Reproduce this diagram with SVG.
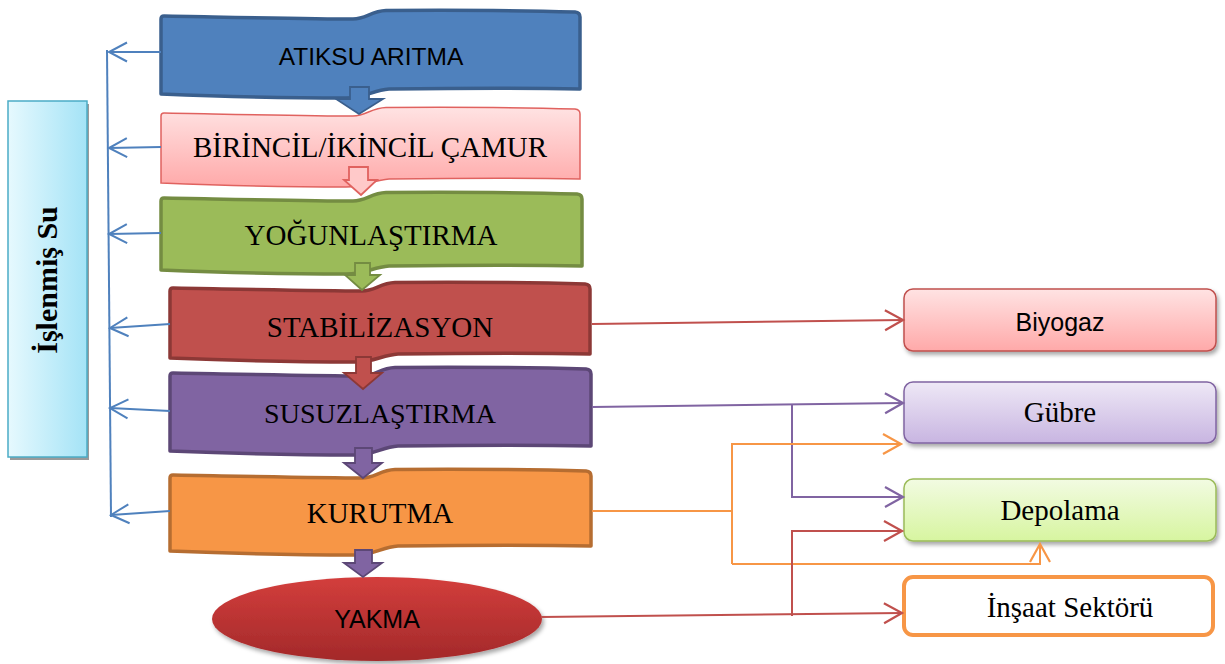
<svg xmlns="http://www.w3.org/2000/svg" width="1225" height="664" viewBox="0 0 1225 664">
  <style>
    .sans { font-family: "Liberation Sans", Arial, sans-serif; fill: #000; }
    .serif { font-family: "Liberation Serif", "Times New Roman", serif; fill: #000; }
    .banner { stroke-width: 3.5; stroke-linejoin: round; }
    .blk { stroke-width: 1.8; stroke-linejoin: miter; }
    .ln { fill: none; stroke-width: 2; }
    .blue { stroke: #4f81bd; }
    .red { stroke: #c0504d; }
    .purple { stroke: #8064a2; }
    .orange { stroke: #f79646; }
  </style>
  <defs>
    <linearGradient id="gPink" x1="0" y1="0" x2="0" y2="1">
      <stop offset="0" stop-color="#ffe3e3"/>
      <stop offset="1" stop-color="#ffa9a9"/>
    </linearGradient>
    <linearGradient id="gViolet" x1="0" y1="0" x2="0" y2="1">
      <stop offset="0" stop-color="#eee8f6"/>
      <stop offset="1" stop-color="#c8b5e1"/>
    </linearGradient>
    <linearGradient id="gLime" x1="0" y1="0" x2="0" y2="1">
      <stop offset="0" stop-color="#f2fbe2"/>
      <stop offset="1" stop-color="#d7f5a0"/>
    </linearGradient>
    <linearGradient id="gCyan" x1="0" y1="0" x2="1" y2="0">
      <stop offset="0" stop-color="#e6f9fe"/>
      <stop offset="1" stop-color="#a4e3f6"/>
    </linearGradient>
    <linearGradient id="gFire" x1="0" y1="0" x2="0" y2="1">
      <stop offset="0" stop-color="#d33e3c"/>
      <stop offset="1" stop-color="#a3292a"/>
    </linearGradient>
    <filter id="shadow" x="-10%" y="-20%" width="120%" height="150%">
      <feDropShadow dx="2" dy="3" stdDeviation="2" flood-color="#000" flood-opacity="0.35"/>
    </filter>
    <marker id="mBlue" markerWidth="22" markerHeight="24" refX="18" refY="11" orient="auto" markerUnits="userSpaceOnUse" overflow="visible">
      <path d="M0,1.5 L18,11 L0,20.5" fill="none" stroke="#4f81bd" stroke-width="2"/>
    </marker>
    <marker id="mRed" markerWidth="22" markerHeight="24" refX="18" refY="11" orient="auto" markerUnits="userSpaceOnUse" overflow="visible">
      <path d="M0,1 L18,11 L0,21" fill="none" stroke="#c0504d" stroke-width="2.2"/>
    </marker>
    <marker id="mPurple" markerWidth="22" markerHeight="24" refX="18" refY="11" orient="auto" markerUnits="userSpaceOnUse" overflow="visible">
      <path d="M0,1 L18,11 L0,21" fill="none" stroke="#8064a2" stroke-width="2.2"/>
    </marker>
    <marker id="mOrange" markerWidth="22" markerHeight="24" refX="18" refY="11" orient="auto" markerUnits="userSpaceOnUse" overflow="visible">
      <path d="M0,1 L18,11 L0,21" fill="none" stroke="#f79646" stroke-width="2.2"/>
    </marker>
  </defs>

  <!-- process stages (wave banners) -->
  <g id="atiksu-aritma" transform="translate(161,10)">
    <path class="banner" fill="#4f81bd" stroke="#3a5f8d" d="M0,9 Q0,6 3,6 C60,7 150,9 192,9 C205,9 210,1 225,0.5 C300,0 380,1 414,2 Q419,2.5 419,7 L419,79 C380,78 300,78 228,79 C212,80 205,88 185,88 C120,88 50,86 0,84 Z"/>
    <text class="sans" x="210" y="55" font-size="24.5" text-anchor="middle">ATIKSU ARITMA</text>
  </g>

  <g id="birincil-ikincil-camur" transform="translate(161,107)">
    <path fill="url(#gPink)" stroke="#e0625f" stroke-width="1.5" d="M0,9 Q0,6 3,6 C60,7 150,9 192,9 C205,9 210,1 225,0.5 C300,0 380,1 414,2 Q419,2.5 419,7 L419,72 C380,71 300,71 228,72 C212,73 205,80 185,80 C120,80 50,78 0,76 Z"/>
    <text class="serif" x="209" y="50" font-size="29" text-anchor="middle">BİRİNCİL/İKİNCİL ÇAMUR</text>
  </g>

  <g id="yogunlastirma" transform="translate(161,192)">
    <path class="banner" fill="#9bbb59" stroke="#748c42" d="M0,9 Q0,6 3,6 C60,7 150,9 192,9 C205,9 210,1 225,0.5 C300,0 380,1 416,2 Q421,2.5 421,7 L421,74 C380,73 300,73 228,74 C212,75 205,82 185,82 C120,82 50,80 0,78 Z"/>
    <text class="serif" x="210" y="53" font-size="29" text-anchor="middle">YOĞUNLAŞTIRMA</text>
  </g>

  <g id="stabilizasyon" transform="translate(170,282)">
    <path class="banner" fill="#c0504d" stroke="#8c3836" d="M0,9 Q0,6 3,6 C60,7 150,9 192,9 C205,9 210,1 225,0.5 C300,0 380,1 415,2 Q420,2.5 420,7 L420,72 C380,71 300,71 228,72 C212,73 205,80 185,80 C120,80 50,78 0,76 Z"/>
    <text class="serif" x="210" y="55" font-size="29" text-anchor="middle">STABİLİZASYON</text>
  </g>

  <g id="susuzlastirma" transform="translate(170,367)">
    <path class="banner" fill="#8064a2" stroke="#5c4776" d="M0,9 Q0,6 3,6 C60,7 150,9 192,9 C205,9 210,1 225,0.5 C300,0 380,1 416,2 Q421,2.5 421,7 L421,79 C380,78 300,78 228,79 C212,80 205,88 185,88 C120,88 50,86 0,84 Z"/>
    <text class="serif" x="210" y="56" font-size="28" text-anchor="middle">SUSUZLAŞTIRMA</text>
  </g>

  <g id="kurutma" transform="translate(170,469)">
    <path class="banner" fill="#f79646" stroke="#b66d31" d="M0,9 Q0,6 3,6 C60,7 150,9 192,9 C205,9 210,1 225,0.5 C300,0 380,1 416,2 Q421,2.5 421,7 L421,77 C380,76 300,76 228,77 C212,78 205,86 185,86 C120,86 50,84 0,82 Z"/>
    <text class="serif" x="210" y="54" font-size="29" text-anchor="middle">KURUTMA</text>
  </g>

  <g id="yakma">
    <ellipse cx="377" cy="619" rx="165" ry="42" fill="url(#gFire)" filter="url(#shadow)"/>
    <text class="sans" x="377" y="628" font-size="25" text-anchor="middle">YAKMA</text>
  </g>

  <!-- side collector -->
  <g id="islenmis-su">
    <rect x="10" y="104" width="79" height="356" fill="#9a9a9a"/>
    <rect x="8" y="101" width="79" height="356" fill="url(#gCyan)" stroke="#4bacc6" stroke-width="1.5"/>
    <text class="serif" transform="translate(57,280) rotate(-90)" font-size="30" font-weight="bold" text-anchor="middle">İşlenmiş Su</text>
  </g>

  <!-- end uses -->
  <g id="biyogaz">
    <rect x="904" y="289" width="312" height="62" rx="9" fill="url(#gPink)" stroke="#c0504d" stroke-width="1.5" filter="url(#shadow)"/>
    <text class="sans" x="1060" y="331" font-size="25" text-anchor="middle">Biyogaz</text>
  </g>
  <g id="gubre">
    <rect x="904" y="382" width="312" height="61" rx="9" fill="url(#gViolet)" stroke="#8064a2" stroke-width="1.5" filter="url(#shadow)"/>
    <text class="serif" x="1060" y="422" font-size="29" text-anchor="middle">Gübre</text>
  </g>
  <g id="depolama">
    <rect x="904" y="479" width="312" height="62" rx="9" fill="url(#gLime)" stroke="#9bbb59" stroke-width="1.5" filter="url(#shadow)"/>
    <text class="serif" x="1060" y="520" font-size="29" text-anchor="middle">Depolama</text>
  </g>
  <g id="insaat-sektoru">
    <rect x="904" y="577" width="309" height="58" rx="9" fill="#fff" stroke="#f79646" stroke-width="4"/>
    <text class="serif" x="1070" y="617" font-size="29" text-anchor="middle">İnşaat Sektörü</text>
  </g>

  <g id="connectors">
    <!-- flow arrows between stages -->
    <path class="blk" fill="#4f81bd" stroke="#3a5f8d" d="M350,87 H369 V99 H383 L359,114 L336,99 H350 Z"/>
    <path class="blk" fill="#ffc9c9" stroke="#e0625f" d="M349,167 H368 V180 H377 L361,195 L344,180 H349 Z"/>
    <path class="blk" fill="#9bbb59" stroke="#748c42" d="M355,263 H370 V275 H380 L362,290 L345,275 H355 Z"/>
    <path class="blk" fill="#c0504d" stroke="#8c3836" d="M356,357 H371 V373 H382 L363,389 L344,373 H356 Z"/>
    <path class="blk" fill="#8064a2" stroke="#5c4776" d="M355,448 H372 V463 H382 L363,478 L344,463 H355 Z"/>
    <path class="blk" fill="#8064a2" stroke="#5c4776" d="M355,550 H372 V563 H382 L363,577 L344,563 H355 Z"/>

    <!-- treated water returns -->
    <line class="ln blue" x1="107" y1="50" x2="111" y2="517"/>
    <line class="ln blue" x1="161" y1="52" x2="109" y2="52" marker-end="url(#mBlue)"/>
    <line class="ln blue" x1="161" y1="147" x2="109" y2="148" marker-end="url(#mBlue)"/>
    <line class="ln blue" x1="161" y1="233" x2="109" y2="234" marker-end="url(#mBlue)"/>
    <line class="ln blue" x1="170" y1="324" x2="110" y2="328" marker-end="url(#mBlue)"/>
    <line class="ln blue" x1="170" y1="411" x2="110" y2="408" marker-end="url(#mBlue)"/>
    <line class="ln blue" x1="170" y1="511" x2="111" y2="515" marker-end="url(#mBlue)"/>

    <!-- stabilisation to biogas -->
    <line class="ln red" x1="592" y1="324" x2="903" y2="320" marker-end="url(#mRed)"/>
    <!-- dewatering to fertiliser and storage -->
    <line class="ln purple" x1="592" y1="407" x2="903" y2="403" marker-end="url(#mPurple)"/>
    <path class="ln purple" d="M792,404 V497 H903" marker-end="url(#mPurple)"/>
    <!-- drying to fertiliser and storage -->
    <path class="ln orange" d="M592,511 H732"/>
    <path class="ln orange" d="M732,564 V444 H901" marker-end="url(#mOrange)"/>
    <path class="ln orange" d="M732,564 H1040 V544" marker-end="url(#mOrange)"/>
    <!-- incineration to construction and storage -->
    <line class="ln red" x1="541" y1="617" x2="902" y2="613" marker-end="url(#mRed)"/>
    <path class="ln red" d="M792,616 V531 H902" marker-end="url(#mRed)"/>
  </g>
</svg>
